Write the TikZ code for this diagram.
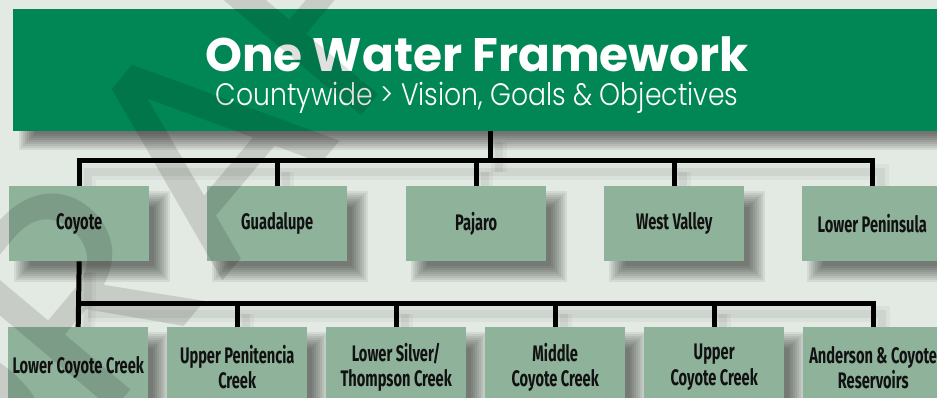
\documentclass[tikz,border=0pt]{standalone}
\usepackage{fontspec}
\setmainfont{Fira Sans}
\newfontfamily\titlefont{Poppins}
\IfFontExistsTF{Poppins Light}
  {\newfontfamily\subfont[FakeStretch=0.86]{Poppins Light}}
  {\newfontfamily\subfont[FakeStretch=0.85]{Poppins}}
\newfontfamily\boxfont[FakeStretch=0.65]{Fira Sans}
\usetikzlibrary{calc}
\definecolor{bgcol}{RGB}{227,233,227}
\definecolor{titlegreen}{RGB}{0,135,85}
\definecolor{boxgreen}{RGB}{143,178,155}
\definecolor{ink}{RGB}{17,17,17}
\pgfdeclarelayer{bg}
\pgfdeclarelayer{shadow}
\pgfdeclarelayer{lines}
\pgfdeclarelayer{front}
\pgfsetlayers{bg,shadow,lines,main,front}
% soft drop shadow under a named node: #1 node, #2 dx, #3 dy (image pixels), #4 layer opacity
\newcommand\softshadow[4]{%
  \begin{pgfonlayer}{shadow}
  \foreach \e in {0,2,...,16} {
    \fill[black, opacity=#4]
      ($(#1.north west)+(#2+8-\e,#3+8-\e)$) rectangle ($(#1.south east)+(#2-8+\e,#3-8+\e)$);
  }
  \end{pgfonlayer}}
\begin{document}
\begin{tikzpicture}[x=1pt,y=-1pt,
  lvlbox/.style={rectangle, fill=boxgreen, inner sep=0pt, anchor=north west,
    minimum width=140pt, minimum height=75pt,
    font=\boxfont\bfseries\fontsize{22.5}{25}\selectfont, text=ink, align=center},
  subbox/.style={lvlbox, minimum height=80pt},
  conn/.style={draw=black, line width=5pt},
  connshadowa/.style={draw=black, opacity=0.035, line width=16pt, transform canvas={shift={(9pt,-11pt)}}},
  connshadowb/.style={draw=black, opacity=0.05, line width=8pt, transform canvas={shift={(9pt,-11pt)}}},
]
\useasboundingbox (0,0) rectangle (937,398);
\clip (0,0) rectangle (937,398);
\begin{pgfonlayer}{bg}
  \fill[bgcol] (0,0) rectangle (937,398);
\end{pgfonlayer}

% title
\node[rectangle, fill=titlegreen, inner sep=0pt, anchor=north west,
  minimum width=929pt, minimum height=122pt] (titlebox) at (13,9) {};
\node[anchor=base, inner sep=0pt, text=white, font=\titlefont\bfseries\fontsize{47}{50}\selectfont]
  (title) at (477,72) {One Water Framework};
\node[anchor=base, inner sep=0pt, text=white, font=\subfont\fontsize{31}{34}\selectfont]
  (subtitle) at (477,106) {Countywide > Vision, Goals \& Objectives};

% level 1
\node[lvlbox] (coy) at (9,186) {Coyote};
\node[lvlbox] (gua) at (207,186) {Guadalupe};
\node[lvlbox] (paj) at (406,186) {Pajaro};
\node[lvlbox] (wv) at (604,186) {West Valley};
\node[lvlbox] (lp) at (802,186) {Lower Peninsula};

% level 2
\node[subbox] (lcc) at (8,327) {Lower Coyote Creek};
\node[subbox] (upc) at (167,327) {Upper Penitencia\\Creek};
\node[subbox] (lsc) at (326,327) {Lower Silver/\\Thompson Creek};
\node[subbox] (mcc) at (485,327) {Middle\\Coyote Creek};
\node[subbox] (ucc) at (644,327) {Upper\\Coyote Creek};
\node[subbox] (arc) at (803,327) {Anderson \& Coyote\\Reservoirs};

% shadows
\softshadow{titlebox}{14}{11}{0.07}
\foreach \n in {coy,gua,paj,wv,lp,lcc,upc,lsc,mcc,ucc,arc} {\softshadow{\n}{13}{13}{0.065}}

\coordinate (bus1) at (490,161);
\coordinate (bus2) at (79,303);

\begin{pgfonlayer}{lines}
  \foreach \s in {connshadowa, connshadowb, conn} {
    \draw[\s] (titlebox.south -| bus1) -- (bus1);
    \draw[\s] (coy.north) |- (bus1) -| (lp.north);
    \draw[\s] (gua.north) -- (gua.north |- bus1);
    \draw[\s] (paj.north) -- (paj.north |- bus1);
    \draw[\s] (wv.north) -- (wv.north |- bus1);
    \draw[\s] (coy.south) -- (lcc.north);
    \draw[\s] (bus2) -| (arc.north);
    \draw[\s] (upc.north) -- (upc.north |- bus2);
    \draw[\s] (lsc.north) -- (lsc.north |- bus2);
    \draw[\s] (mcc.north) -- (mcc.north |- bus2);
    \draw[\s] (ucc.north) -- (ucc.north |- bus2);
  }
\end{pgfonlayer}

\begin{pgfonlayer}{front}
  \node[rotate=50, inner sep=0pt, text=black, text opacity=0.12,
    font=\titlefont\fontsize{300}{300}\selectfont] (draft) at (175,175) {DRAFT};
\end{pgfonlayer}
\end{tikzpicture}
\end{document}
